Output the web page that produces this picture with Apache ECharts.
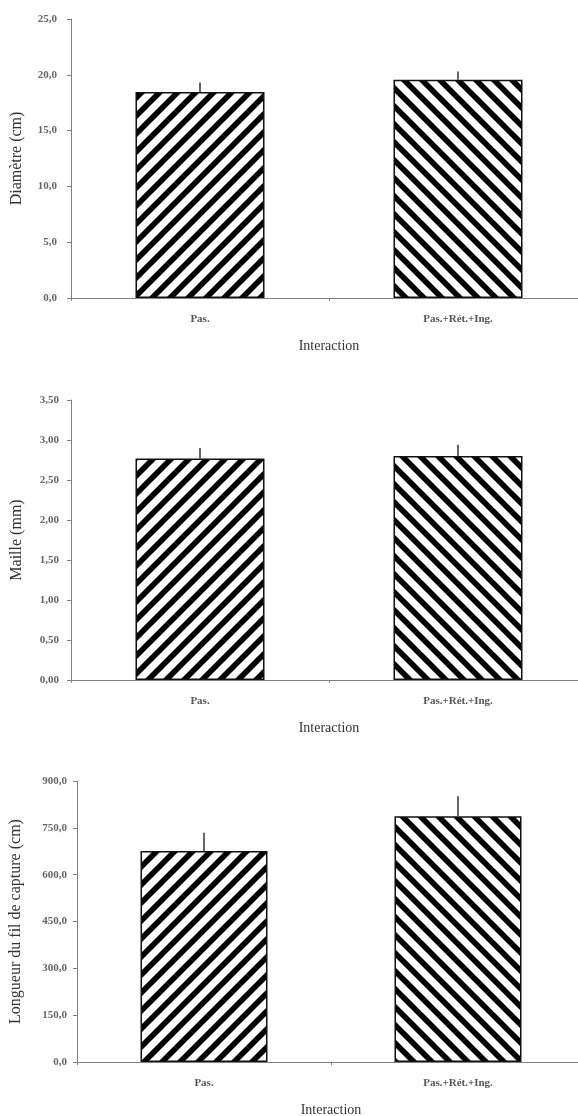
<!DOCTYPE html>
<html>
<head>
<meta charset="utf-8">
<script src="https://cdn.jsdelivr.net/npm/echarts@6/dist/echarts.min.js"></script>
<style>
html,body{margin:0;padding:0;background:#fff;}
#c{width:578px;height:1116px;}
</style>
</head>
<body>
<div id="c"></div>
<script>
// ---- data ----
const categories = ['Pas.', 'Pas.+Rét.+Ing.'];
const xAxisTitle = 'Interaction';

const diamTitle = 'Diamètre (cm)';
const diamValues = [18.45, 19.55];
const diamErrors = [0.85, 0.75];
const diamTicks = ['0,0', '5,0', '10,0', '15,0', '20,0', '25,0'];

const mailleTitle = 'Maille (mm)';
const mailleValues = [2.77, 2.80];
const mailleErrors = [0.13, 0.14];
const mailleTicks = ['0,00', '0,50', '1,00', '1,50', '2,00', '2,50', '3,00', '3,50'];

const filTitle = 'Longueur du fil de capture (cm)';
const filValues = [676, 787];
const filErrors = [58, 64];
const filTicks = ['0,0', '150,0', '300,0', '450,0', '600,0', '750,0', '900,0'];

// ---- hatch patterns ----
function hatch(dir) {
  const s = 18;
  const c = document.createElement('canvas');
  c.width = s; c.height = s;
  const g = c.getContext('2d');
  g.fillStyle = '#fff';
  g.fillRect(0, 0, s, s);
  g.strokeStyle = '#000';
  g.lineWidth = 5.6;
  for (let k = -2; k <= 2; k++) {
    g.beginPath();
    if (dir > 0) { g.moveTo(k * s - s, 2 * s); g.lineTo(k * s + 2 * s, -s); }
    else { g.moveTo(k * s - s, -s); g.lineTo(k * s + 2 * s, 2 * s); }
    g.stroke();
  }
  return { image: c, repeat: 'repeat' };
}
const patA = hatch(1);
const patB = hatch(-1);

const FONT = 'Liberation Serif';
const grids = [
  { left: 71, top: 19, height: 279, right: -9, outerBoundsMode: 'none', containLabel: false },
  { left: 71, top: 400, height: 280, right: -9, outerBoundsMode: 'none', containLabel: false },
  { left: 77, top: 781, height: 281, right: -7, outerBoundsMode: 'none', containLabel: false }
];
const panels = [
  { title: diamTitle, values: diamValues, errors: diamErrors, ticks: diamTicks, max: 25, interval: 5, nameGap: 46, labelMargin: 14 },
  { title: mailleTitle, values: mailleValues, errors: mailleErrors, ticks: mailleTicks, max: 3.5, interval: 0.5, nameGap: 46, labelMargin: 12 },
  { title: filTitle, values: filValues, errors: filErrors, ticks: filTicks, max: 900, interval: 150, nameGap: 53, labelMargin: 10 }
];

const xAxis = [], yAxis = [], series = [];
panels.forEach((p, i) => {
  xAxis.push({
    type: 'category', gridIndex: i, data: categories,
    name: xAxisTitle, nameLocation: 'middle', nameGap: 41,
    nameTextStyle: { fontFamily: FONT, fontSize: 14, color: '#333' },
    axisLine: { lineStyle: { color: '#808080', width: 1 } },
    axisTick: { show: true, length: 3, lineStyle: { color: '#808080' } },
    axisLabel: { fontFamily: FONT, fontSize: 11, fontWeight: 'bold', color: '#555', margin: 16 }
  });
  yAxis.push({
    type: 'value', gridIndex: i, min: 0, max: p.max, interval: p.interval,
    name: p.title, nameLocation: 'middle', nameGap: p.nameGap, nameRotate: 90,
    nameTextStyle: { fontFamily: FONT, fontSize: 16, color: '#333' },
    axisLine: { show: true, lineStyle: { color: '#808080', width: 1 } },
    axisTick: { show: true, length: 4, lineStyle: { color: '#808080' } },
    splitLine: { show: false },
    axisLabel: {
      fontFamily: FONT, fontSize: 11, fontWeight: 'bold', color: '#666', margin: p.labelMargin,
      formatter: (v) => p.ticks[Math.round(v / p.interval)]
    }
  });
  series.push({
    type: 'bar', xAxisIndex: i, yAxisIndex: i, barWidth: '50%',
    data: p.values.map((v, k) => ({
      value: v,
      itemStyle: { color: k === 0 ? patA : patB, borderColor: '#111', borderWidth: 1.5 }
    })),
    animation: false
  });
  series.push({
    type: 'custom', xAxisIndex: i, yAxisIndex: i,
    data: p.values.map((v, k) => [k, v, p.errors[k]]),
    encode: { x: 0, y: 1 },
    renderItem: function (params, api) {
      const x = api.value(0), v = api.value(1), e = api.value(2);
      const p0 = api.coord([x, v]);
      const p1 = api.coord([x, v + e]);
      return { type: 'line', shape: { x1: p0[0], y1: p0[1], x2: p1[0], y2: p1[1] },
        style: { stroke: '#333', lineWidth: 1.5 } };
    },
    z: 5, animation: false
  });
});

const chart = echarts.init(document.getElementById('c'), null, { renderer: 'canvas' });
chart.setOption({
  backgroundColor: '#fff',
  animation: false,
  grid: grids,
  xAxis: xAxis,
  yAxis: yAxis,
  series: series
});
</script>
</body>
</html>
